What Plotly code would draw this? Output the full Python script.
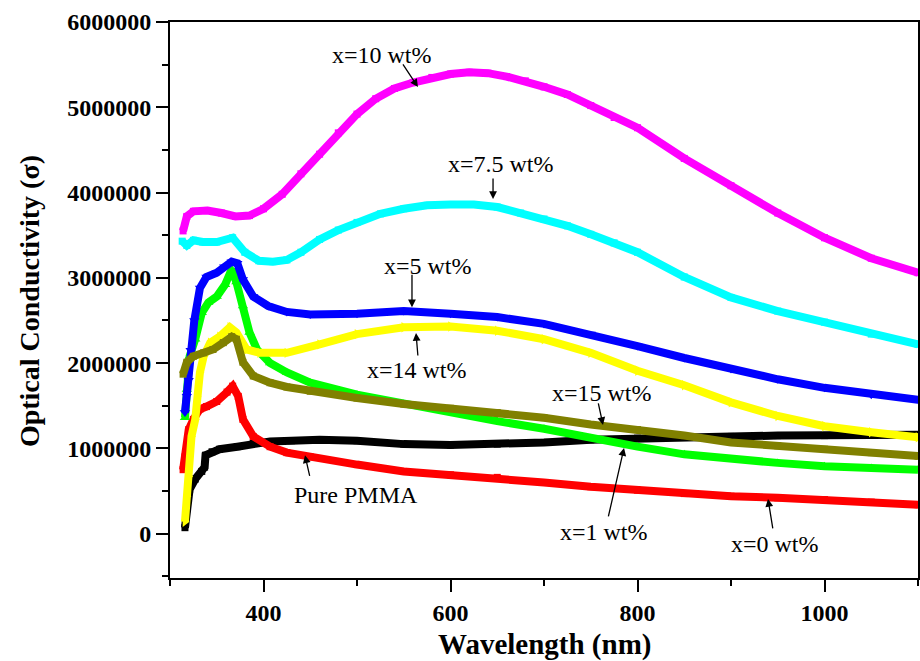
import plotly.graph_objects as go

# ---- data (wavelength in nm, optical conductivity in units of 1e6) ----
wl_pmma = [316, 318, 321, 327, 334, 337, 338, 345, 353, 372, 389, 407, 430, 460, 500, 550, 600, 650, 700, 750, 800, 850, 900, 950, 1000, 1050, 1100]
s_pmma = [0.07, 0.29, 0.52, 0.64, 0.73, 0.78, 0.92, 0.96, 0.99, 1.02, 1.06, 1.08, 1.09, 1.10, 1.09, 1.05, 1.04, 1.05, 1.07, 1.10, 1.12, 1.13, 1.14, 1.15, 1.15, 1.16, 1.16]

wl_x0 = [314, 316, 320, 325, 332, 339, 350, 361, 367, 373, 378, 389, 407, 425, 450, 500, 550, 600, 650, 700, 750, 800, 850, 900, 950, 1000, 1050, 1100]
s_x0 = [0.75, 0.90, 1.22, 1.34, 1.46, 1.49, 1.55, 1.66, 1.73, 1.61, 1.34, 1.14, 1.02, 0.95, 0.90, 0.81, 0.73, 0.69, 0.66, 0.60, 0.55, 0.51, 0.47, 0.44, 0.42, 0.40, 0.37, 0.34]

wl_x1 = [316, 318, 321, 327, 334, 341, 350, 359, 366, 371, 378, 385, 393, 407, 425, 450, 500, 550, 600, 650, 700, 750, 800, 850, 900, 950, 1000, 1050, 1100]
s_x1 = [1.36, 1.69, 2.08, 2.28, 2.59, 2.71, 2.78, 2.92, 3.10, 2.95, 2.67, 2.36, 2.16, 2.00, 1.89, 1.77, 1.63, 1.52, 1.42, 1.32, 1.23, 1.12, 1.02, 0.93, 0.87, 0.83, 0.79, 0.77, 0.75]

wl_x5 = [316, 318, 320, 322, 326, 332, 339, 350, 358, 366, 372, 378, 389, 405, 425, 450, 500, 550, 600, 650, 700, 750, 800, 850, 900, 950, 1000, 1050, 1100]
s_x5 = [1.42, 1.61, 1.80, 2.15, 2.50, 2.88, 3.01, 3.06, 3.13, 3.19, 3.17, 2.98, 2.78, 2.67, 2.60, 2.57, 2.58, 2.61, 2.58, 2.54, 2.46, 2.34, 2.20, 2.06, 1.93, 1.81, 1.71, 1.63, 1.57]

wl_x75 = [313, 318, 325, 335, 350, 367, 380, 395, 410, 425, 440, 460, 480, 500, 525, 550, 575, 600, 625, 650, 675, 700, 725, 750, 775, 800, 850, 900, 950, 1000, 1050, 1100]
s_x75 = [3.43, 3.38, 3.44, 3.42, 3.42, 3.47, 3.30, 3.20, 3.19, 3.21, 3.30, 3.45, 3.56, 3.65, 3.75, 3.81, 3.85, 3.86, 3.86, 3.83, 3.76, 3.69, 3.61, 3.51, 3.41, 3.30, 3.01, 2.77, 2.61, 2.48, 2.34, 2.22]

wl_x10 = [314, 318, 325, 340, 355, 370, 385, 400, 420, 440, 460, 480, 500, 520, 540, 560, 580, 600, 620, 640, 660, 680, 700, 725, 750, 775, 800, 850, 900, 950, 1000, 1050, 1100]
s_x10 = [3.55, 3.72, 3.78, 3.79, 3.76, 3.72, 3.73, 3.81, 3.98, 4.22, 4.45, 4.70, 4.92, 5.10, 5.22, 5.29, 5.35, 5.39, 5.41, 5.40, 5.36, 5.31, 5.24, 5.15, 5.02, 4.88, 4.76, 4.40, 4.08, 3.76, 3.47, 3.23, 3.06]

wl_x14 = [316, 318, 320, 321, 323, 327, 329, 332, 336, 343, 353, 364, 371, 382, 396, 425, 460, 500, 550, 600, 650, 700, 750, 800, 850, 900, 950, 1000, 1050, 1100]
s_x14 = [0.14, 0.44, 0.67, 0.91, 1.14, 1.34, 1.61, 1.89, 2.08, 2.24, 2.31, 2.42, 2.36, 2.16, 2.12, 2.12, 2.22, 2.34, 2.42, 2.43, 2.38, 2.28, 2.12, 1.91, 1.74, 1.54, 1.38, 1.26, 1.19, 1.13]

wl_x15 = [314, 318, 325, 336, 346, 357, 366, 371, 378, 389, 407, 425, 450, 500, 550, 600, 650, 700, 750, 800, 850, 900, 950, 1000, 1050, 1100]
s_x15 = [1.87, 2.01, 2.08, 2.12, 2.16, 2.24, 2.31, 2.28, 2.01, 1.85, 1.77, 1.72, 1.67, 1.59, 1.52, 1.47, 1.42, 1.36, 1.28, 1.22, 1.15, 1.07, 1.03, 0.99, 0.95, 0.91]

series = [
    ("Pure PMMA", wl_pmma, s_pmma, "#000000", "square"),
    ("x=0 wt%", wl_x0, s_x0, "#FF0000", "square"),
    ("x=1 wt%", wl_x1, s_x1, "#00FF00", "triangle-up"),
    ("x=5 wt%", wl_x5, s_x5, "#0000FF", "triangle-down"),
    ("x=7.5 wt%", wl_x75, s_x75, "#00FFFF", "square"),
    ("x=10 wt%", wl_x10, s_x10, "#FF00FF", "square"),
    ("x=14 wt%", wl_x14, s_x14, "#FFFF00", "triangle-right"),
    ("x=15 wt%", wl_x15, s_x15, "#808000", "square"),
]

fig = go.Figure()
for name, xs, ys, col, sym in series:
    fig.add_trace(go.Scatter(
        x=xs, y=[v * 1e6 for v in ys], name=name, mode="lines+markers",
        line=dict(color=col, width=8),
        marker=dict(color=col, symbol=sym, size=9 if sym != "square" else 7),
        showlegend=False,
    ))

serif = "Liberation Serif, Times New Roman, serif"

# labels: (text, text_x, text_y, head_x, head_y, ax, ay)
labels = [
    ("x=10 wt%", 526.7, 5.613e6, 565.2, 5.238e6, -16, -24),
    ("x=7.5 wt%", 654.0, 4.335e6, 645.5, 3.925e6, 0, -22),
    ("x=5 wt%", 575.9, 3.139e6, 558.8, 2.655e6, 0, -34),
    ("x=14 wt%", 564.2, 1.919e6, 563.1, 2.353e6, 2, 24),
    ("x=15 wt%", 762.0, 1.649e6, 763.1, 1.275e6, -5, -23),
    ("x=1 wt%", 764.2, 0.020e6, 785.6, 1.005e6, -16, 70),
    ("x=0 wt%", 947.1, -0.121e6, 939.6, 0.407e6, 5, 31),
    ("Pure PMMA", 498.9, 0.454e6, 444.4, 0.918e6, 5, 22),
]
anns = []
for text, tx, ty, hx, hy, ax, ay in labels:
    anns.append(dict(x=tx, y=ty, xref="x", yref="y", text=text, showarrow=False,
                     font=dict(family=serif, size=24, color="black")))
    anns.append(dict(x=hx, y=hy, xref="x", yref="y", text="", showarrow=True,
                     ax=ax, ay=ay, arrowhead=2, arrowsize=1.2, arrowwidth=1.3,
                     arrowcolor="black"))

# axis titles placed as annotations for exact positioning
anns.append(dict(x=0.5, y=-0.1205, xref="paper", yref="paper", text="<b>Wavelength (nm)</b>",
                 showarrow=False, xanchor="center", yanchor="middle",
                 font=dict(family=serif, size=29, color="black")))
anns.append(dict(x=-0.1885, y=0.498, xref="paper", yref="paper", text="<b>Optical Conductivity (σ)</b>",
                 showarrow=False, xanchor="center", yanchor="middle", textangle=-90,
                 font=dict(family=serif, size=28, color="black")))

fig.update_layout(
    width=920, height=661,
    margin=dict(l=170, r=2, t=22, b=83, autoexpand=False),
    paper_bgcolor="white", plot_bgcolor="white",
    font=dict(family=serif, color="black"),
    annotations=anns,
    xaxis=dict(
        range=[300, 1100], tick0=0, dtick=200, ticks="outside", ticklen=12, tickwidth=2,
        tickcolor="black", showline=True, linewidth=2, linecolor="black", mirror=True,
        showgrid=False, zeroline=False, automargin=False,
        tickfont=dict(family=serif, size=24, color="black", weight="bold"),
        minor=dict(dtick=100, tick0=0, ticks="outside", ticklen=6, tickwidth=2, tickcolor="black", showgrid=False),
    ),
    yaxis=dict(
        range=[-520000, 6000000], tick0=0, dtick=1000000, tickformat="d", ticks="outside",
        ticklen=12, tickwidth=2, tickcolor="black", showline=True, linewidth=2, linecolor="black",
        mirror=True, showgrid=False, zeroline=False, automargin=False,
        tickfont=dict(family=serif, size=24, color="black", weight="bold"),
        minor=dict(dtick=500000, tick0=0, ticks="outside", ticklen=6, tickwidth=2, tickcolor="black", showgrid=False),
    ),
)

fig.write_html("out.html", config={"displayModeBar": False},
               post_script="document.body.style.margin='0';document.body.style.padding='0';document.body.style.overflow='hidden';")
